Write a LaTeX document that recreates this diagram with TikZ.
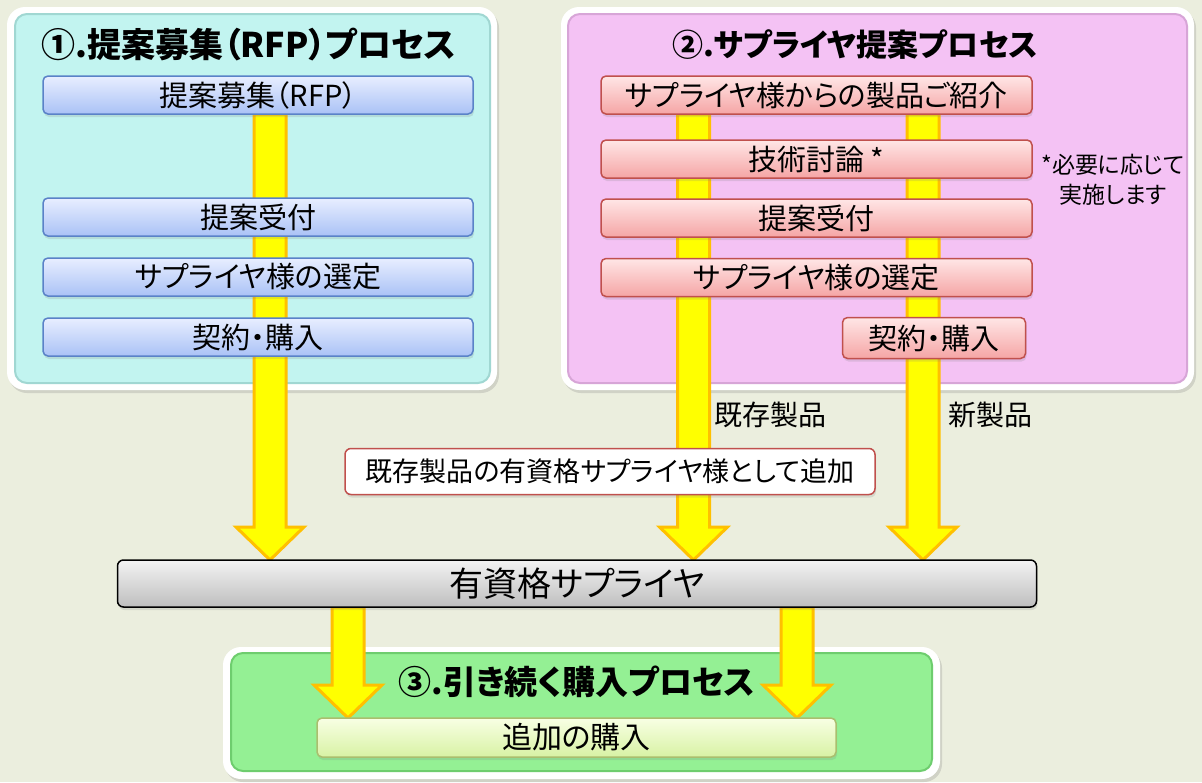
\documentclass[tikz,border=0pt]{standalone}
\usepackage{fontspec}
\setmainfont{Noto Sans CJK JP}[RawFeature={+palt}]
\usetikzlibrary{calc,shadows}
\definecolor{bgc}{RGB}{235,238,222}
\definecolor{cyanp}{RGB}{194,244,240}
\definecolor{cyanedge}{RGB}{160,215,210}
\definecolor{pinkp}{RGB}{244,194,244}
\definecolor{pinkedge}{RGB}{215,165,215}
\definecolor{greenp}{RGB}{148,240,148}
\definecolor{greenedge}{RGB}{110,205,110}
\definecolor{bluetop}{RGB}{232,238,255}
\definecolor{bluebot}{RGB}{170,194,246}
\definecolor{blueline}{RGB}{90,130,200}
\definecolor{redtop}{RGB}{255,230,230}
\definecolor{redbot}{RGB}{245,165,165}
\definecolor{redline}{RGB}{192,80,77}
\definecolor{graytop}{RGB}{243,243,243}
\definecolor{graybot}{RGB}{190,190,190}
\definecolor{lgtop}{RGB}{248,255,228}
\definecolor{lgbot}{RGB}{216,242,164}
\definecolor{lgline}{RGB}{170,190,110}
\definecolor{arrfill}{RGB}{255,255,0}
\definecolor{arrline}{RGB}{255,192,0}
\pgfdeclarelayer{bg}
\pgfdeclarelayer{arr}
\pgfsetlayers{bg,arr,main}
\newcommand\fatarrow[2]{\path[fat] let \p1=(#1), \p2=(#2) in
  (\x1-16pt,\y1) -- (\x1-16pt,\y2+33pt) -- (\x1-34pt,\y2+33pt) -- (\x1,\y2)
  -- (\x1+34pt,\y2+33pt) -- (\x1+16pt,\y2+33pt) -- (\x1+16pt,\y1) -- cycle;}
\begin{document}
\begin{tikzpicture}[x=1pt,y=-1pt,
  every node/.style={inner sep=0pt,outer sep=0pt},
  panelouter/.style={fill=white,rounded corners=18pt,
    drop shadow={opacity=0.25,shadow xshift=2pt,shadow yshift=-3pt}},
  panelinner/.style={rounded corners=12pt,line width=2pt},
  ttl/.style={font=\fontsize{34}{40}\selectfont\bfseries},
  bbox/.style={draw=blueline,line width=1.5pt,rounded corners=5pt,
    top color=bluetop,bottom color=bluebot,minimum width=430,minimum height=38,
    font=\fontsize{29}{34}\selectfont,
    drop shadow={opacity=0.2,shadow xshift=1pt,shadow yshift=-3pt}},
  rbox/.style={draw=redline,line width=1.5pt,rounded corners=5pt,
    top color=redtop,bottom color=redbot,minimum width=431,minimum height=38,
    font=\fontsize{29}{34}\selectfont,
    drop shadow={opacity=0.2,shadow xshift=1pt,shadow yshift=-3pt}},
  fat/.style={fill=arrfill,draw=arrline,line width=3pt,line join=miter},
  lbl/.style={font=\fontsize{28}{32}\selectfont}]
\begin{pgfonlayer}{bg}
\fill[bgc] (0,0) rectangle (1202,782);
\end{pgfonlayer}
\useasboundingbox (0,0) rectangle (1202,782);
\begin{pgfonlayer}{bg}
% panel 1
\node[panelouter,minimum width=490,minimum height=383] (P1o) at (252,198.5) {};
\node[panelinner,fill=cyanp,draw=cyanedge,minimum width=475,minimum height=369] (P1) at (252.5,198.5) {};
% panel 2
\node[panelouter,minimum width=633,minimum height=383] (P2o) at (877.5,198.5) {};
\node[panelinner,fill=pinkp,draw=pinkedge,minimum width=619,minimum height=369] (P2) at (877.5,198.5) {};
% panel 3
\node[panelouter,minimum width=717,minimum height=132] (P3o) at (581.5,713) {};
\node[panelinner,fill=greenp,draw=greenedge,minimum width=701,minimum height=118] (P3) at (581.5,712) {};
\end{pgfonlayer}
% titles
\node[ttl] (T1) at (249,45) {①.提案募集（RFP）プロセス};
\node[ttl,font=\fontsize{31}{40}\selectfont\bfseries] (T2) at (855,45) {②.サプライヤ提案プロセス};
\node[ttl,font=\fontsize{33}{40}\selectfont\bfseries] (T3) at (577,682) {③.引き続く購入プロセス};
% panel 1 boxes
\node[bbox] (p1a) at (258,95) {提案募集（RFP）};
\node[bbox] (p1b) at (258,217) {提案受付};
\node[bbox] (p1c) at (258,277) {サプライヤ様の選定};
\node[bbox] (p1d) at (258,337) {契約・購入};
% panel 2 boxes
\node[rbox] (p2a) at (816.5,95) {サプライヤ様からの製品ご紹介};
\node[rbox] (p2b) at (816.5,159) {技術討論 *};
\node[rbox] (p2c) at (816.5,218) {提案受付};
\node[rbox] (p2d) at (816.5,277.5) {サプライヤ様の選定};
\node[rbox,minimum width=183,minimum height=41] (p2e) at (934,338) {契約・購入};
\node[font=\fontsize{23}{30}\selectfont,align=center] (note) at (1113,180) {*必要に応じて\\実施します};
% labels
\node[lbl] (lexist) at (770,415) {既存製品};
\node[lbl] (lnew) at (990,415) {新製品};
\node[draw=redline,line width=1.5pt,rounded corners=6pt,fill=white,
  minimum width=530,minimum height=46,font=\fontsize{27}{32}\selectfont,
  drop shadow={opacity=0.2,shadow xshift=1pt,shadow yshift=-3pt}] (addbox) at (610,471.5)
  {既存製品の有資格サプライヤ様として追加};
% qualified suppliers bar
\node[draw=black,line width=1.5pt,rounded corners=6pt,top color=graytop,bottom color=graybot,
  minimum width=919,minimum height=47,font=\fontsize{34}{38}\selectfont,
  drop shadow={opacity=0.2,shadow xshift=1pt,shadow yshift=-3pt}] (bar) at (577,583.5) {有資格サプライヤ};
% panel 3 box
\node[draw=lgline,line width=1.5pt,rounded corners=5pt,top color=lgtop,bottom color=lgbot,
  minimum width=519,minimum height=39,font=\fontsize{30}{34}\selectfont,
  drop shadow={opacity=0.2,shadow xshift=1pt,shadow yshift=-3pt}] (p3box) at (576.5,737.5) {追加の購入};
% arrows
\begin{pgfonlayer}{arr}
\fatarrow{$(p1a.south)+(12,0)$}{bar.north}
\fatarrow{$(p2a.south)+(-123,0)$}{bar.north}
\fatarrow{$(p2a.south)+(106.5,0)$}{bar.north}
\fatarrow{$(bar.south)+(-229,0)$}{p3box.north}
\fatarrow{$(bar.south)+(220,0)$}{p3box.north}
\end{pgfonlayer}
\end{tikzpicture}
\end{document}
